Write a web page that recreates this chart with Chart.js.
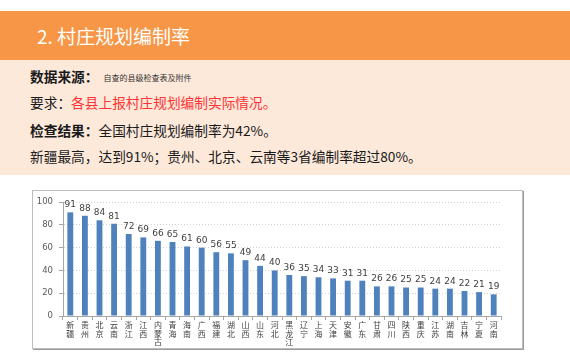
<!DOCTYPE html>
<html><head><meta charset="utf-8">
<script src="https://cdn.jsdelivr.net/npm/chart.js@4/dist/chart.umd.min.js"></script>
<style>
html,body{margin:0;padding:0;background:#fff;width:570px;height:360px;overflow:hidden;font-family:"Noto Sans CJK SC","Noto Sans",sans-serif;}
#hdr{position:absolute;left:0;top:11px;width:570px;height:49px;background:#F79646;}
#hdr span{position:absolute;left:37px;top:24px;transform:translateY(-50%);color:#fff;font-size:19px;line-height:1;white-space:nowrap;}
#info{position:absolute;left:0;top:60px;width:570px;height:115px;background:#FDE9DA;}
.ln{position:absolute;left:30px;white-space:nowrap;color:#1a1a1a;font-size:13.7px;line-height:1;transform:translateY(-50%);}
.b{font-weight:bold;}
.s{font-size:8px;margin-left:5px;vertical-align:middle;color:#333;}
.r{color:#FF3333;}
#box{position:absolute;left:32px;top:190px;width:489px;height:157px;border:1px solid #bdbdbd;box-shadow:1px 1px 0 #9a9a9a;background:#fff;}
#cw{position:absolute;left:0;top:0;width:489px;height:157px;}
</style></head>
<body>
<div id="hdr"><span>2. 村庄规划编制率</span></div>
<div id="info">
  <div class="ln" style="top:17px"><span class="b">数据来源：</span><span class="s">自查的县级检查表及附件</span></div>
  <div class="ln" style="top:43px">要求：<span class="r">各县上报村庄规划编制实际情况。</span></div>
  <div class="ln" style="top:71px"><span class="b">检查结果：</span>全国村庄规划编制率为42%。</div>
  <div class="ln" style="top:97px">新疆最高，达到91%；贵州、北京、云南等3省编制率超过80%。</div>
</div>
<div id="box"><div id="cw"><canvas id="c"></canvas></div></div>
<script>
const provinces = ['新疆','贵州','北京','云南','浙江','江西','内蒙古','青海','海南','广西','福建','湖北','山西','山东','河北','黑龙江','辽宁','上海','天津','安徽','广东','甘肃','四川','陕西','重庆','江苏','湖南','吉林','宁夏','河南'];
const rates = [91,88,84,81,72,69,66,65,61,60,56,55,49,44,40,36,35,34,33,31,31,26,26,25,25,24,24,22,21,19];
const yTicks = [0,20,40,60,80,100];

const labels = provinces.map(p => p.split(''));

const valueLabels = {
  id: 'valueLabels',
  afterDatasetsDraw(chart) {
    const ctx = chart.ctx;
    const meta = chart.getDatasetMeta(0);
    ctx.save();
    ctx.font = '9px "DejaVu Sans", sans-serif';
    ctx.fillStyle = '#404040';
    ctx.textAlign = 'center';
    ctx.textBaseline = 'bottom';
    meta.data.forEach((bar, i) => {
      ctx.fillText(String(rates[i]), bar.x, bar.y - 3);
    });
    ctx.restore();
  }
};

new Chart(document.getElementById('c'), {
  type: 'bar',
  data: {
    labels: labels,
    datasets: [{
      data: rates,
      backgroundColor: '#4F81BD',
      borderWidth: 0,
      barPercentage: 0.4,
      categoryPercentage: 1
    }]
  },
  options: {
    responsive: true,
    maintainAspectRatio: false,
    animation: false,
    devicePixelRatio: 1,
    layout: { padding: { left: 0, right: 21, top: 9, bottom: 0 } },
    plugins: { legend: { display: false }, tooltip: { enabled: false } },
    scales: {
      x: {
        afterFit(s) { s.height = 32; },
        grid: { display: true, drawOnChartArea: false, drawTicks: true, tickLength: 4, tickColor: '#a6a6a6', offset: true },
        border: { display: true, color: '#a6a6a6' },
        ticks: {
          autoSkip: false, maxRotation: 0, minRotation: 0, padding: 1,
          color: '#404040',
          font: { size: 8, family: '"Noto Sans CJK SC", sans-serif', lineHeight: 1.05 }
        }
      },
      y: {
        min: 0, max: 100,
        afterFit(s) { s.width = 30; },
        afterBuildTicks(s) { s.ticks = yTicks.map(v => ({ value: v })); },
        grid: { display: true, color: '#cfcfcf', drawTicks: true, tickLength: 4, tickColor: '#a6a6a6', tickBorderDash: [] },
        border: { display: true, color: '#a6a6a6', dash: [1, 2] },
        ticks: {
          padding: 6, color: '#595959',
          font: { size: 8.5, family: '"DejaVu Sans", sans-serif' }
        }
      }
    }
  },
  plugins: [valueLabels]
});
</script>
</body></html>
